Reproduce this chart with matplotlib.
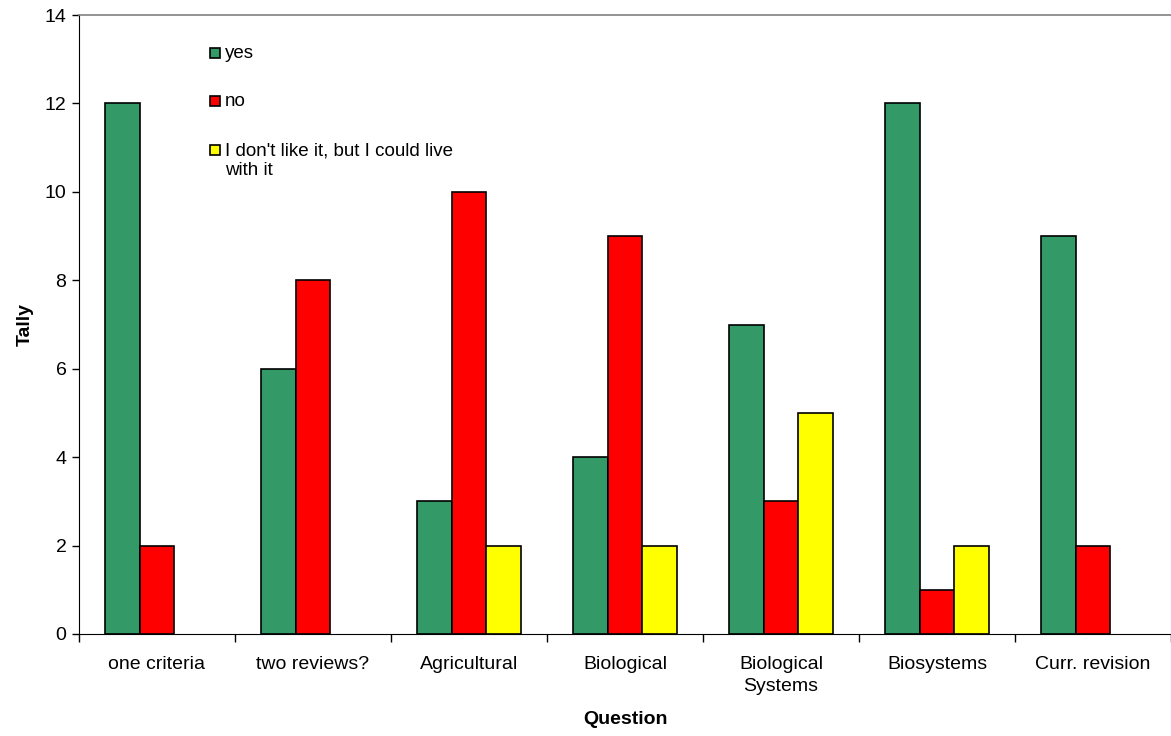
import numpy as np
import matplotlib.pyplot as plt
from matplotlib.patches import Rectangle

plt.rcParams['font.family'] = ['Liberation Sans', 'DejaVu Sans']

categories = ['one criteria', 'two reviews?', 'Agricultural', 'Biological',
              'Biological\nSystems', 'Biosystems', 'Curr. revision']
yes = [12, 6, 3, 4, 7, 12, 9]
no = [2, 8, 10, 9, 3, 1, 2]
live_with = [np.nan, np.nan, 2, 2, 5, 2, np.nan]   # no answers in those groups
series_labels = ['yes', 'no', "I don't like it, but I could live\nwith it"]
colors = ['#339966', '#ff0000', '#ffff00']

W, H = 1171, 736
fig = plt.figure(figsize=(W / 100, H / 100), dpi=100)
ax = fig.add_axes([79 / W, 1 - 634 / H, 1 - 79 / W, (634 - 15) / H])

x = np.arange(len(categories))
w = 0.224
for i, (vals, c) in enumerate(zip([yes, no, live_with], colors)):
    ax.bar(x + (i - 1) * w, vals, w, color=c, edgecolor='black', linewidth=1.2)

ax.set_xlim(-0.5, len(categories) - 0.5)
ax.set_ylim(0, 14)
ax.set_yticks(np.arange(0, 15, 2))
ax.set_xticks(x)
ax.set_xticklabels(categories, fontsize=14, linespacing=1.35)
ax.set_xticks(np.arange(-0.5, len(categories), 1), minor=True)
ax.tick_params(axis='x', which='major', length=0, pad=16)
ax.tick_params(axis='x', which='minor', length=6, direction='out', width=1)
ax.tick_params(axis='y', labelsize=14, length=5, width=1, pad=4)

ax.spines['right'].set_visible(False)
ax.spines['top'].set_color('#808080')
ax.spines['top'].set_linewidth(1.2)

ax.set_ylabel('Tally', fontsize=14, fontweight='bold', labelpad=8)
ax.set_xlabel('Question', fontsize=14, fontweight='bold', labelpad=12)

# legend drawn by hand: the wrapped label keeps its box on the first line
rows_y = [53, 101, 150]
for lab, c, yy in zip(series_labels, colors, rows_y):
    fig.add_artist(Rectangle((210 / W, 1 - (yy + 5) / H), 10 / W, 10 / H,
                             transform=fig.transFigure, facecolor=c,
                             edgecolor='black', linewidth=1.2))
    fig.text(225 / W, 1 - (yy - 8) / H, lab, fontsize=13.5, va='top',
             linespacing=1.25)

fig.savefig('out.png', dpi=100)
